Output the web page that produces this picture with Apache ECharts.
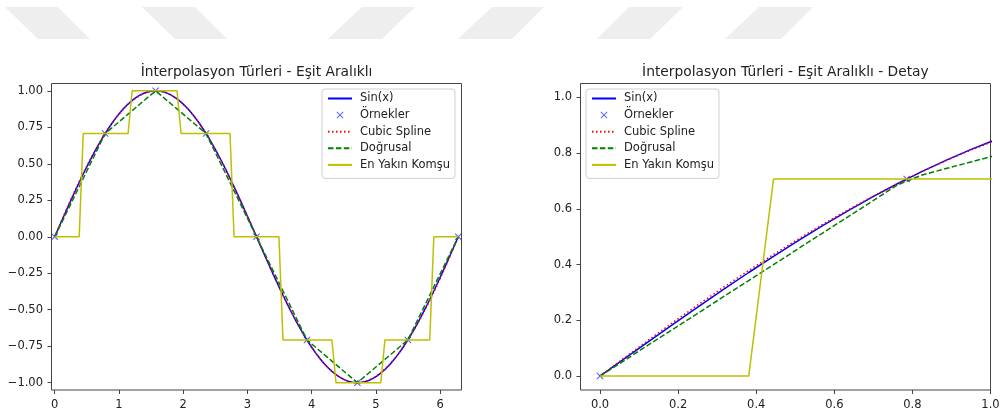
<!DOCTYPE html>
<html>
<head>
<meta charset="utf-8">
<script src="https://cdn.jsdelivr.net/npm/echarts@6/dist/echarts.min.js"></script>
<style>
  html, body { margin: 0; padding: 0; background: #ffffff; }
  #chart { width: 1004px; height: 417px; }
</style>
</head>
<body>
<div id="chart"></div>
<script>
// Fine evaluation grid over [0, 2π] (100 points)
const xGrid = [
  0, 0.0635, 0.1269, 0.1904, 0.2539, 0.3173, 0.3808, 0.4443, 0.5077, 0.5712,
  0.6347, 0.6981, 0.7616, 0.8251, 0.8885, 0.9520, 1.0155, 1.0789, 1.1424, 1.2059,
  1.2693, 1.3328, 1.3963, 1.4597, 1.5232, 1.5867, 1.6501, 1.7136, 1.7771, 1.8405,
  1.9040, 1.9675, 2.0309, 2.0944, 2.1579, 2.2213, 2.2848, 2.3483, 2.4117, 2.4752,
  2.5387, 2.6021, 2.6656, 2.7291, 2.7925, 2.8560, 2.9195, 2.9829, 3.0464, 3.1099,
  3.1733, 3.2368, 3.3003, 3.3637, 3.4272, 3.4907, 3.5541, 3.6176, 3.6811, 3.7445,
  3.8080, 3.8715, 3.9349, 3.9984, 4.0619, 4.1253, 4.1888, 4.2523, 4.3157, 4.3792,
  4.4427, 4.5061, 4.5696, 4.6331, 4.6965, 4.7600, 4.8235, 4.8869, 4.9504, 5.0139,
  5.0773, 5.1408, 5.2043, 5.2677, 5.3312, 5.3947, 5.4581, 5.5216, 5.5851, 5.6485,
  5.7120, 5.7755, 5.8389, 5.9024, 5.9659, 6.0293, 6.0928, 6.1563, 6.2197, 6.2832
];

// Sin(x) on the grid
const sinVals = [
  0, 0.0634, 0.1266, 0.1893, 0.2511, 0.3120, 0.3717, 0.4298, 0.4862, 0.5406,
  0.5929, 0.6428, 0.6901, 0.7346, 0.7761, 0.8146, 0.8497, 0.8815, 0.9096, 0.9342,
  0.9549, 0.9718, 0.9848, 0.9938, 0.9989, 0.9999, 0.9969, 0.9898, 0.9788, 0.9638,
  0.9450, 0.9224, 0.8960, 0.8660, 0.8326, 0.7958, 0.7557, 0.7127, 0.6668, 0.6182,
  0.5671, 0.5137, 0.4582, 0.4009, 0.3420, 0.2817, 0.2203, 0.1580, 0.0951, 0.0317,
  -0.0317, -0.0951, -0.1580, -0.2203, -0.2817, -0.3420, -0.4009, -0.4582, -0.5137, -0.5671,
  -0.6182, -0.6668, -0.7127, -0.7557, -0.7958, -0.8326, -0.8660, -0.8960, -0.9224, -0.9450,
  -0.9638, -0.9788, -0.9898, -0.9969, -0.9999, -0.9989, -0.9938, -0.9848, -0.9718, -0.9549,
  -0.9342, -0.9096, -0.8815, -0.8497, -0.8146, -0.7761, -0.7346, -0.6901, -0.6428, -0.5929,
  -0.5406, -0.4862, -0.4298, -0.3717, -0.3120, -0.2511, -0.1893, -0.1266, -0.0634, 0
];

// Cubic spline (not-a-knot) through the 9 samples, on the grid
const splineVals = [
  0, 0.0667, 0.1321, 0.1962, 0.2588, 0.3198, 0.3790, 0.4364, 0.4917, 0.5450,
  0.5959, 0.6445, 0.6905, 0.7340, 0.7747, 0.8123, 0.8468, 0.8784, 0.9064, 0.9312,
  0.9523, 0.9698, 0.9833, 0.9929, 0.9986, 0.9999, 0.9968, 0.9898, 0.9788, 0.9636,
  0.9446, 0.9219, 0.8955, 0.8656, 0.8322, 0.7955, 0.7556, 0.7127, 0.6667, 0.6180,
  0.5668, 0.5133, 0.4577, 0.4003, 0.3414, 0.2811, 0.2198, 0.1576, 0.0948, 0.0316,
  -0.0316, -0.0948, -0.1576, -0.2198, -0.2811, -0.3414, -0.4003, -0.4577, -0.5133, -0.5668,
  -0.6180, -0.6667, -0.7127, -0.7556, -0.7955, -0.8322, -0.8656, -0.8955, -0.9219, -0.9446,
  -0.9636, -0.9788, -0.9898, -0.9968, -0.9999, -0.9986, -0.9929, -0.9833, -0.9698, -0.9523,
  -0.9312, -0.9064, -0.8784, -0.8468, -0.8123, -0.7747, -0.7340, -0.6905, -0.6445, -0.5959,
  -0.5450, -0.4917, -0.4364, -0.3790, -0.3198, -0.2588, -0.1962, -0.1321, -0.0667, 0
];

// Linear interpolation of the samples, on the grid
const linearVals = [
  0, 0.0571, 0.1143, 0.1714, 0.2286, 0.2857, 0.3428, 0.4000, 0.4571, 0.5143,
  0.5714, 0.6285, 0.6857, 0.7219, 0.7456, 0.7692, 0.7929, 0.8166, 0.8402, 0.8639,
  0.8876, 0.9112, 0.9349, 0.9586, 0.9822, 0.9941, 0.9704, 0.9467, 0.9231, 0.8994,
  0.8757, 0.8521, 0.8284, 0.8047, 0.7811, 0.7574, 0.7337, 0.7101, 0.6571, 0.6000,
  0.5428, 0.4857, 0.4285, 0.3714, 0.3143, 0.2571, 0.2000, 0.1429, 0.0857, 0.0286,
  -0.0286, -0.0857, -0.1429, -0.2000, -0.2571, -0.3143, -0.3714, -0.4285, -0.4857, -0.5428,
  -0.6000, -0.6571, -0.7101, -0.7337, -0.7574, -0.7811, -0.8047, -0.8284, -0.8521, -0.8757,
  -0.8994, -0.9231, -0.9467, -0.9704, -0.9941, -0.9822, -0.9586, -0.9349, -0.9112, -0.8876,
  -0.8639, -0.8402, -0.8166, -0.7929, -0.7692, -0.7456, -0.7219, -0.6857, -0.6285, -0.5714,
  -0.5143, -0.4571, -0.4000, -0.3428, -0.2857, -0.2286, -0.1714, -0.1143, -0.0571, 0
];

// Nearest-neighbour interpolation of the samples, on the grid
const nearestVals = [
  0, 0, 0, 0, 0, 0, 0, 0.7071, 0.7071, 0.7071,
  0.7071, 0.7071, 0.7071, 0.7071, 0.7071, 0.7071, 0.7071, 0.7071, 0.7071, 1,
  1, 1, 1, 1, 1, 1, 1, 1, 1, 1,
  1, 0.7071, 0.7071, 0.7071, 0.7071, 0.7071, 0.7071, 0.7071, 0.7071, 0.7071,
  0.7071, 0.7071, 0.7071, 0.7071, 0, 0, 0, 0, 0, 0,
  0, 0, 0, 0, 0, 0, -0.7071, -0.7071, -0.7071, -0.7071,
  -0.7071, -0.7071, -0.7071, -0.7071, -0.7071, -0.7071, -0.7071, -0.7071, -0.7071, -1,
  -1, -1, -1, -1, -1, -1, -1, -1, -1, -1,
  -1, -0.7071, -0.7071, -0.7071, -0.7071, -0.7071, -0.7071, -0.7071, -0.7071, -0.7071,
  -0.7071, -0.7071, -0.7071, 0, 0, 0, 0, 0, 0, 0
];

// Equally spaced samples (k·π/4)
const sampleX = [0, 0.7854, 1.5708, 2.3562, 3.1416, 3.9270, 4.7124, 5.4978, 6.2832];
const sampleY = [0, 0.7071, 1, 0.7071, 0, -0.7071, -1, -0.7071, 0];

// Tick positions
const leftXTicks = [0, 1, 2, 3, 4, 5, 6];
const leftYTicks = [-1, -0.75, -0.5, -0.25, 0, 0.25, 0.5, 0.75, 1];
const rightXTicks = [0, 0.2, 0.4, 0.6, 0.8, 1.0];
const rightYTicks = [0, 0.2, 0.4, 0.6, 0.8, 1.0];

const seriesNames = ['Sin(x)', 'Örnekler', 'Cubic Spline', 'Doğrusal', 'En Yakın Komşu'];
const titles = ['İnterpolasyon Türleri - Eşit Aralıklı', 'İnterpolasyon Türleri - Eşit Aralıklı - Detay'];

const FONT = 'DejaVu Sans';
const TEXT = '#222222';
const SPINE = '#444444';

const pairs = (ys) => xGrid.map((x, i) => [x, ys[i]]);
const samplePairs = sampleX.map((x, i) => [x, sampleY[i]]);
const crossPath = 'path://M0,1 L1,0 L5,4 L9,0 L10,1 L6,5 L10,9 L9,10 L5,6 L1,10 L0,9 L4,5 Z';

const fmtMinus = (digits) => (v) => {
  const s = Math.abs(v).toFixed(digits);
  return (v < -1e-9 ? '\u2212' : '') + s;
};

function xAxisFor(gridIndex, min, max, ticks, digits) {
  return {
    type: 'value', gridIndex, min, max,
    splitLine: { show: false },
    axisLine: { show: false, onZero: false },
    axisTick: { show: true, inside: false, length: 4, customValues: ticks, lineStyle: { color: SPINE, width: 1 } },
    axisLabel: { customValues: ticks, margin: 9, color: TEXT, fontFamily: FONT, fontSize: 11.5, formatter: fmtMinus(digits) }
  };
}
function yAxisFor(gridIndex, min, max, ticks, digits) {
  return {
    type: 'value', gridIndex, min, max,
    splitLine: { show: false },
    axisLine: { show: false, onZero: false },
    axisTick: { show: true, inside: false, length: 4, customValues: ticks, lineStyle: { color: SPINE, width: 1 } },
    axisLabel: { customValues: ticks, margin: 8.5, color: TEXT, fontFamily: FONT, fontSize: 11.5, formatter: fmtMinus(digits) }
  };
}

function seriesFor(idx) {
  const common = { xAxisIndex: idx, yAxisIndex: idx, animation: false, silent: true };
  return [
    Object.assign({ name: seriesNames[0], type: 'line', data: pairs(sinVals), symbol: 'none', clip: true,
      lineStyle: { color: '#0000ff', width: 1.5 }, itemStyle: { color: '#0000ff' } }, common),
    Object.assign({ name: seriesNames[1], type: 'scatter', data: samplePairs, symbol: crossPath, symbolSize: 7, clip: true,
      itemStyle: { color: '#2b2bff' } }, common),
    Object.assign({ name: seriesNames[2], type: 'line', data: pairs(splineVals), symbol: 'none', clip: true,
      lineStyle: { color: '#ff0000', width: 1.5, type: [1.5, 2.5] }, itemStyle: { color: '#ff0000' } }, common),
    Object.assign({ name: seriesNames[3], type: 'line', data: pairs(linearVals), symbol: 'none', clip: true,
      lineStyle: { color: '#008000', width: 1.5, type: [5.5, 2.4] }, itemStyle: { color: '#008000' } }, common),
    Object.assign({ name: seriesNames[4], type: 'line', data: pairs(nearestVals), symbol: 'none', clip: true,
      lineStyle: { color: '#bfbf00', width: 1.5 }, itemStyle: { color: '#bfbf00' } }, common)
  ];
}

// Legend entries: line handles without a point marker, the sample entry keeps its cross
const legendData = seriesNames.map((name, i) =>
  i === 1 ? { name } : { name, itemStyle: { opacity: 0 } }
);

function legendAt(left, top) {
  return {
    left, top, orient: 'vertical', data: legendData,
    itemWidth: 24, itemHeight: 7, itemGap: 2.6,
    backgroundColor: 'rgba(255,255,255,0.85)', borderColor: '#d0d0d0', borderWidth: 1, borderRadius: 3,
    padding: [2.5, 5, 6.5, 5], selectedMode: false,
    textStyle: { fontFamily: FONT, fontSize: 11.5, color: TEXT, padding: [0, 0, 0, 3], lineHeight: 14 }
  };
}

// Light banner shapes along the top edge
const bannerShapes = [
  [[5, 7], [58, 7], [90, 39], [38, 39]],
  [[142, 7], [195, 7], [227, 39], [175, 39]],
  [[362, 7], [415, 7], [382, 39], [328, 39]],
  [[492, 7], [544, 7], [512, 39], [458, 39]],
  [[629, 7], [683, 7], [650, 39], [597, 39]],
  [[759, 7], [813, 7], [781, 39], [725, 39]]
].map((pts) => ({ type: 'polygon', shape: { points: pts }, style: { fill: '#eeeeee' }, silent: true, z: -1 }));

const chart = echarts.init(document.getElementById('chart'), null, { renderer: 'canvas' });
chart.setOption({
  animation: false,
  backgroundColor: '#ffffff',
  graphic: bannerShapes,
  title: [
    { text: titles[0], left: 256.5, top: 65, textAlign: 'center', padding: 0,
      textStyle: { fontFamily: FONT, fontSize: 13.8, fontWeight: 'normal', color: TEXT } },
    { text: titles[1], left: 785.4, top: 65, textAlign: 'center', padding: 0,
      textStyle: { fontFamily: FONT, fontSize: 13.8, fontWeight: 'normal', color: TEXT } }
  ],
  grid: [
    { left: 51.5, top: 83.5, width: 410, height: 306.5, show: true, borderColor: SPINE, borderWidth: 1, backgroundColor: 'transparent' },
    { left: 580.5, top: 83.5, width: 410, height: 306.5, show: true, borderColor: SPINE, borderWidth: 1, backgroundColor: 'transparent' }
  ],
  xAxis: [
    xAxisFor(0, -0.05, 6.3332, leftXTicks, 0),
    xAxisFor(1, -0.05, 1.0, rightXTicks, 1)
  ],
  yAxis: [
    yAxisFor(0, -1.05, 1.05, leftYTicks, 2),
    yAxisFor(1, -0.05, 1.05, rightYTicks, 1)
  ],
  legend: [legendAt(322, 89), legendAt(586, 89)],
  series: seriesFor(0).concat(seriesFor(1))
});
</script>
</body>
</html>
